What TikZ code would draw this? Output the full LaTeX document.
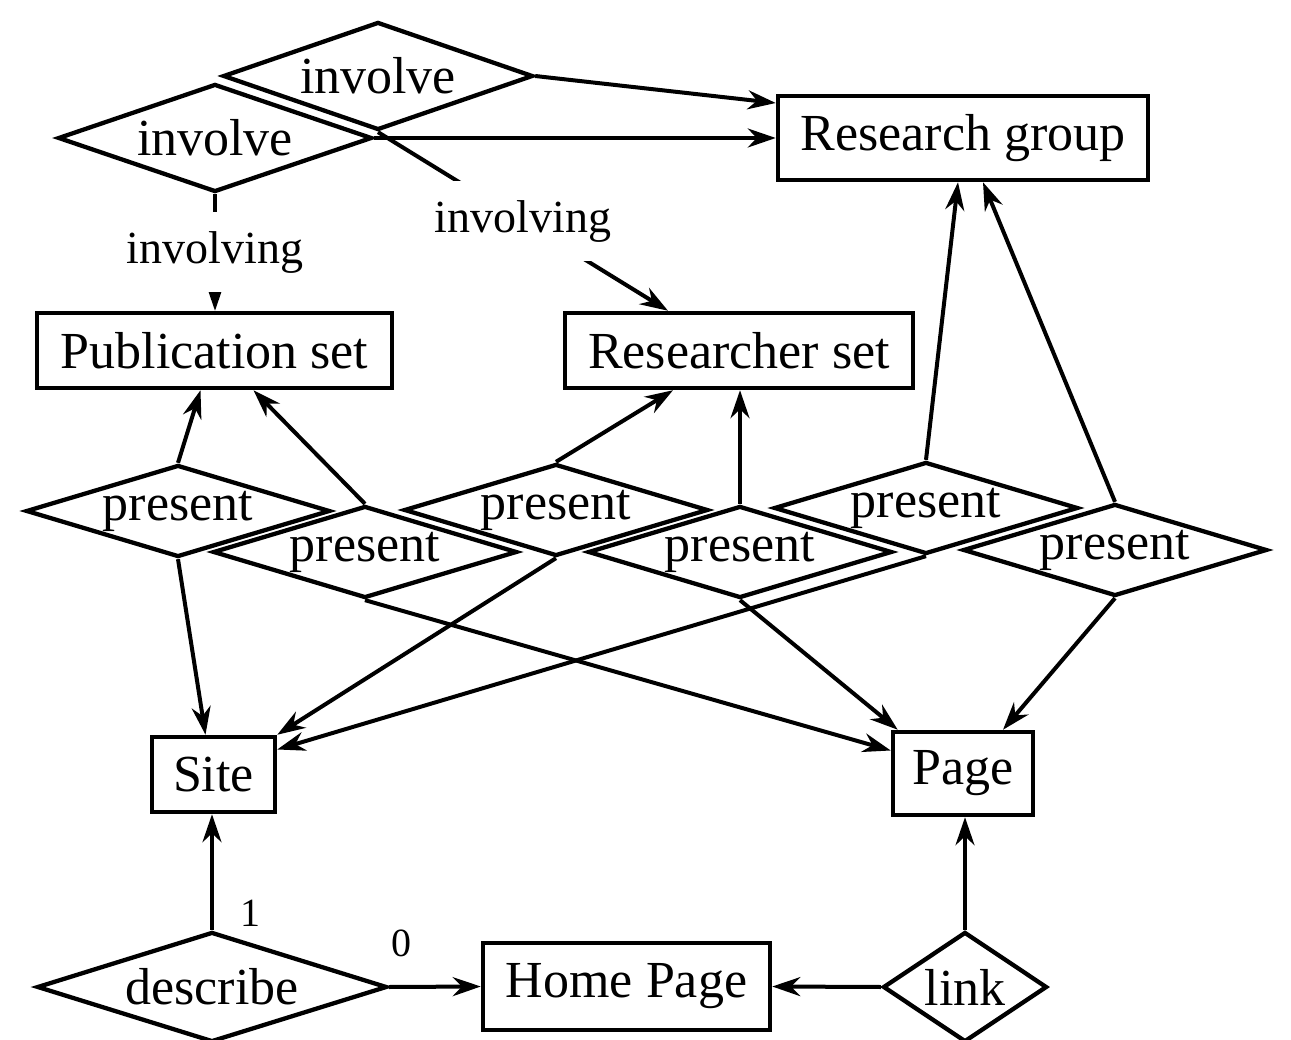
\documentclass[tikz,border=0pt]{standalone}
\usepackage{fontspec}
\setmainfont{Liberation Serif}
\usetikzlibrary{shapes.geometric,arrows.meta,calc}
\begin{document}
\begin{tikzpicture}[x=1pt,y=-1pt,
  every node/.style={font=\fontsize{52}{60}\selectfont},
  ent/.style={draw, line width=4.5pt, inner sep=0pt},
  rel/.style={draw, diamond, line width=4.3pt, inner sep=0pt},
  conn/.style={line width=4pt, -{Stealth[length=28pt,width=19pt]}},
  lab/.style={font=\fontsize{46}{52}\selectfont, fill=white, inner xsep=0pt, minimum height=80pt},
  num/.style={font=\fontsize{40}{46}\selectfont, inner sep=0pt}
]
\useasboundingbox (0,0) rectangle (1291,1040);

% entity boxes
\node[ent, minimum width=370pt, minimum height=84pt] (RG) at (963,138) {Research group};
\node[ent, minimum width=355pt, minimum height=75pt] (PS) at (214.5,350.5) {Publication set};
\node[ent, minimum width=348pt, minimum height=75pt] (RS) at (739,350.5) {Researcher set};
\node[ent, minimum width=123pt, minimum height=75pt] (Site) at (213.5,774.5) {Site};
\node[ent, minimum width=140pt, minimum height=83pt] (Page) at (963,773.5) {Page};
\node[ent, minimum width=287pt, minimum height=87pt] (HP) at (626.5,986.5) {Home Page};

% relationship diamonds
\node[rel, minimum width=310pt, minimum height=108pt, label=center:involve] (A) at (378,76) {};
\node[rel, minimum width=314pt, minimum height=108pt, label=center:involve] (B) at (215,138) {};

\node[rel, minimum width=304pt, minimum height=92pt, label=center:present] (P1) at (178,511) {};
\node[rel, minimum width=304pt, minimum height=92pt, label=center:present] (P2) at (365,552) {};
\node[rel, minimum width=304pt, minimum height=92pt, label=center:present] (P3) at (556,510) {};
\node[rel, minimum width=304pt, minimum height=92pt, label=center:present] (P4) at (740,552) {};
\node[rel, minimum width=304pt, minimum height=92pt, label=center:present] (P5) at (926,508) {};
\node[rel, minimum width=304pt, minimum height=92pt, label=center:present] (P6) at (1115,550) {};

\node[rel, minimum width=350pt, minimum height=110pt, label=center:describe] (D) at (212,987) {};
\node[rel, minimum width=164pt, minimum height=110pt, label=center:link] (L) at (965,987) {};

% connectors
\draw[conn] (A.east) -- ([yshift=35pt]RG.west);
\draw[conn] (B.east) -- (B.east -| RG.west);
\draw[conn] (A.south) -- node[lab] (l1) {involving} ([xshift=-71pt]RS.north);
\draw[conn] (B.south) -- node[lab] (l2) {involving} (B.south |- PS.north);

\draw[conn] (P1.north) -- ([xshift=-14pt]PS.south);
\draw[conn] (P2.north) -- ([xshift=39pt]PS.south);
\draw[conn] (P3.north) -- ([xshift=-66pt]RS.south);
\draw[conn] (P4.north) -- (P4.north |- RS.south);
\draw[conn] (P5.north) -- ([xshift=-5pt]RG.south);
\draw[conn] (P6.north) -- ([xshift=20pt]RG.south);

\draw[conn] (P1.south) -- ([xshift=-8pt]Site.north);
\draw[conn] (P2.south) -- ([yshift=23pt]Page.west);
\draw[conn] (P3.south) -- (Site.north east);
\draw[conn] (P4.south) -- ([xshift=7pt]Page.north west);
\draw[conn] (P5.south) -- ([yshift=25pt]Site.east);
\draw[conn] (P6.south) -- ([xshift=40pt]Page.north);

\draw[conn] (D.north) -- (D.north |- Site.south);
\draw[conn] (D.east) -- (HP.west);
\draw[conn] (L.north) -- (L.north |- Page.south);
\draw[conn] (L.west) -- (HP.east);

\node[num] (one) at (250,913) {1};
\node[num] (zero) at (401,943) {0};
\end{tikzpicture}
\end{document}
